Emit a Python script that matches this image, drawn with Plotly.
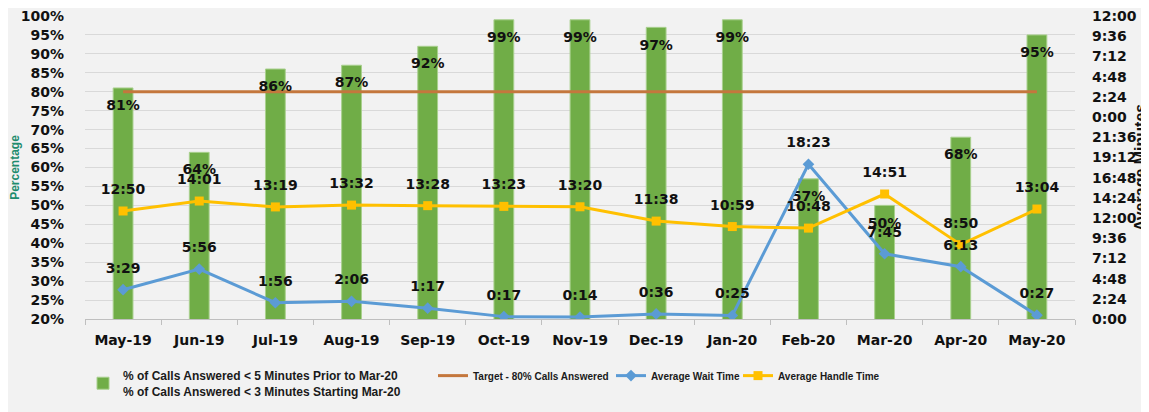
import plotly.graph_objects as go

months = ["May-19", "Jun-19", "Jul-19", "Aug-19", "Sep-19", "Oct-19", "Nov-19",
          "Dec-19", "Jan-20", "Feb-20", "Mar-20", "Apr-20", "May-20"]
pct_answered = [81, 64, 86, 87, 92, 99, 99, 97, 99, 57, 50, 68, 95]
target = [80] * 13
wait_time = ["3:29", "5:56", "1:56", "2:06", "1:17", "0:17", "0:14", "0:36",
             "0:25", "18:23", "7:45", "6:13", "0:27"]
handle_time = ["12:50", "14:01", "13:19", "13:32", "13:28", "13:23", "13:20",
               "11:38", "10:59", "10:48", "14:51", "8:50", "13:04"]

left_ticks = list(range(20, 101, 5))
right_ticks = [i * 2.4 for i in range(16)]


def to_units(s):
    m, sec = s.split(":")
    return int(m) + int(sec) / 60.0


def fmt_hm(v):
    total = int(round(v * 60)) % (24 * 60)
    return f"{total // 60}:{total % 60:02d}"


wait_v = [to_units(s) for s in wait_time]
handle_v = [to_units(s) for s in handle_time]

BG = "#F2F2F2"
FONT = "DejaVu Sans"
LBL = dict(family=FONT, size=14, color="#111111", weight="bold")
TICKF = dict(family=FONT, size=14, color="#111111", weight="bold")
LEGF1 = dict(family="Liberation Sans", size=12, color="#1a1a1a", weight="bold")
LEGF = dict(family="Liberation Sans", size=10, color="#1a1a1a", weight="bold")

fig = go.Figure()

fig.add_trace(go.Bar(
    x=months, y=pct_answered, yaxis="y",
    name="% of Calls Answered &lt; 5 Minutes Prior to Mar-20<br>% of Calls Answered &lt; 3 Minutes Starting Mar-20",
    marker=dict(color="#70AD47", line=dict(color="#A9D08E", width=1)),
    hoverinfo="skip", legend="legend",
))
fig.add_trace(go.Scatter(
    x=months, y=target, yaxis="y", mode="lines",
    name="Target - 80% Calls Answered",
    line=dict(color="#C4773D", width=3), legend="legend2",
))
fig.add_trace(go.Scatter(
    x=months, y=wait_v, yaxis="y2", mode="lines+markers",
    name="Average Wait Time",
    line=dict(color="#5B9BD5", width=3),
    marker=dict(symbol="diamond", size=9, color="#5B9BD5"), legend="legend3",
))
fig.add_trace(go.Scatter(
    x=months, y=handle_v, yaxis="y2", mode="lines+markers",
    name="Average Handle Time",
    line=dict(color="#FFC000", width=3),
    marker=dict(symbol="square", size=9, color="#FFC000"), legend="legend4",
))

# data labels
fig.add_trace(go.Scatter(
    x=months, y=pct_answered, yaxis="y", mode="markers+text",
    text=[f"{v}%" for v in pct_answered], textposition="bottom center",
    textfont=LBL, marker=dict(size=17, opacity=0), showlegend=False, hoverinfo="skip",
    cliponaxis=False,
))
fig.add_trace(go.Scatter(
    x=months, y=wait_v, yaxis="y2", mode="markers+text",
    text=wait_time, textposition="top center",
    textfont=LBL, marker=dict(size=20, opacity=0), showlegend=False, hoverinfo="skip",
    cliponaxis=False,
))
fig.add_trace(go.Scatter(
    x=months, y=handle_v, yaxis="y2", mode="markers+text",
    text=handle_time, textposition="top center",
    textfont=LBL, marker=dict(size=20, opacity=0), showlegend=False, hoverinfo="skip",
    cliponaxis=False,
))

leg_common = dict(orientation="h", xanchor="left", yanchor="top", y=-0.139,
                  bgcolor="rgba(0,0,0,0)", itemwidth=30)

fig.update_layout(
    width=1141, height=404,
    margin=dict(l=77, r=74, t=8, b=93, autoexpand=False),
    paper_bgcolor=BG, plot_bgcolor=BG,
    bargap=0.74,
    showlegend=True,
    legend=dict(x=-0.002, font=LEGF1, **leg_common),
    legend2=dict(x=0.3515, font=LEGF, **leg_common),
    legend3=dict(x=0.5313, font=LEGF, **leg_common),
    legend4=dict(x=0.6596, font=LEGF, **leg_common),
    xaxis=dict(
        type="category", range=[-0.5, 12.5], showgrid=False, showline=True,
        linecolor="#BFBFBF", linewidth=1,
        ticks="outside", tickson="boundaries", ticklen=5, tickcolor="#BFBFBF",
        tickfont=TICKF, ticklabelstandoff=8,
    ),
    yaxis=dict(
        range=[20, 100], tickvals=left_ticks, ticktext=[f"{v}%" for v in left_ticks],
        showgrid=True, gridcolor="#D9D9D9", gridwidth=1, zeroline=False, showline=False,
        tickfont=TICKF, ticklabelstandoff=20, ticklabeloverflow="allow",
        title=dict(text="Percentage",
                   font=dict(family="Liberation Sans", size=12, color="#1E8C6E", weight="bold"),
                   standoff=11),
    ),
    yaxis2=dict(
        range=[0, 36], overlaying="y", side="right",
        tickvals=right_ticks, ticktext=[fmt_hm(v) for v in right_ticks],
        showgrid=False, zeroline=False, showline=False,
        tickfont=TICKF, ticklabelstandoff=16, ticklabeloverflow="allow",
        title=dict(text="Average Minutes",
                   font=dict(family="Liberation Sans", size=16, color="#111111", weight="bold"),
                   standoff=4),
    ),
)

fig.write_html("out.html")
